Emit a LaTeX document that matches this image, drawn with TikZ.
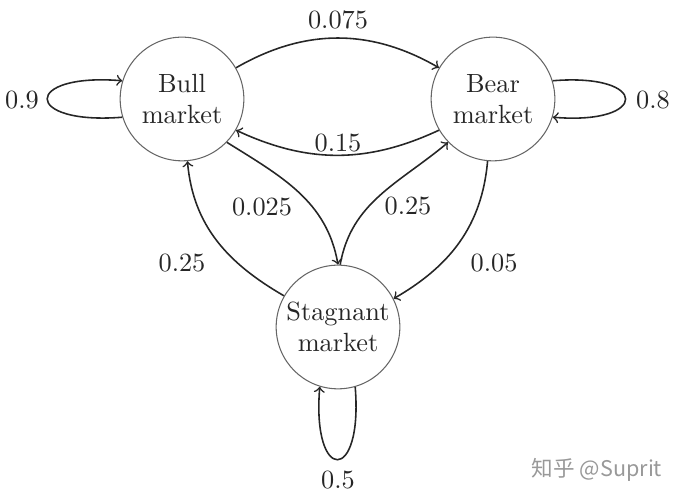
\documentclass[tikz,border=0pt]{standalone}
\usepackage{fontspec}
\newfontfamily\cjk{Noto Sans CJK SC}
\begin{document}
\begin{tikzpicture}[x=0.38pt,y=0.38pt,
  state/.style={circle,draw=black!60,line width=0.4pt,minimum size=47pt,inner sep=0pt,align=center,text=black!85},
  tr/.style={->,semithick,black!85},
  lbl/.style={text=black!85,inner sep=1pt}]
\useasboundingbox (0,0) rectangle (676,500);
\node[state] (bull) at (182,401) {Bull\\market};
\node[state] (bear) at (493,401) {Bear\\market};
\node[state] (stag) at (338,173) {Stagnant\\market};
% transitions between states
\draw[tr] (bull.30) to[out=30,in=150] (bear.150);
\draw[tr] (bear.210) to[out=205,in=-25] (bull.-30);
\draw[tr] (bull.-44) to[out=-32,in=100] (stag.90);
\draw[tr] (stag.88) to[out=80,in=220] (bear.224);
\draw[tr] (stag.150) to[out=150,in=-85] (bull.-85);
\draw[tr] (bear.-95) to[out=-95,in=30] (stag.27);
% self loops
\draw[tr] (bull.197) .. controls +(-100,-8) and +(-100,8) .. (bull.163);
\draw[tr] (bear.17) .. controls +(97,8) and +(97,-8) .. (bear.-17);
\draw[tr] (stag.-74) .. controls +(8,-97) and +(-8,-97) .. (stag.-107);
% labels
\node[lbl] (l1) at (338,480) {0.075};
\node[lbl] (l2) at (338,357) {0.15};
\node[lbl] (l3) at (262,293) {0.025};
\node[lbl] (l4) at (408,294) {0.25};
\node[lbl] (l5) at (182,237) {0.25};
\node[lbl] (l6) at (494,237) {0.05};
\node[lbl] (l7) at (22,400) {0.9};
\node[lbl] (l8) at (653,400) {0.8};
\node[lbl] (l9) at (338,20) {0.5};
% watermark
\node[text=black!40,inner sep=0pt] (wm) at (597,30) {\cjk\fontsize{8.2}{10}\selectfont 知乎 @Suprit};
\end{tikzpicture}
\end{document}
